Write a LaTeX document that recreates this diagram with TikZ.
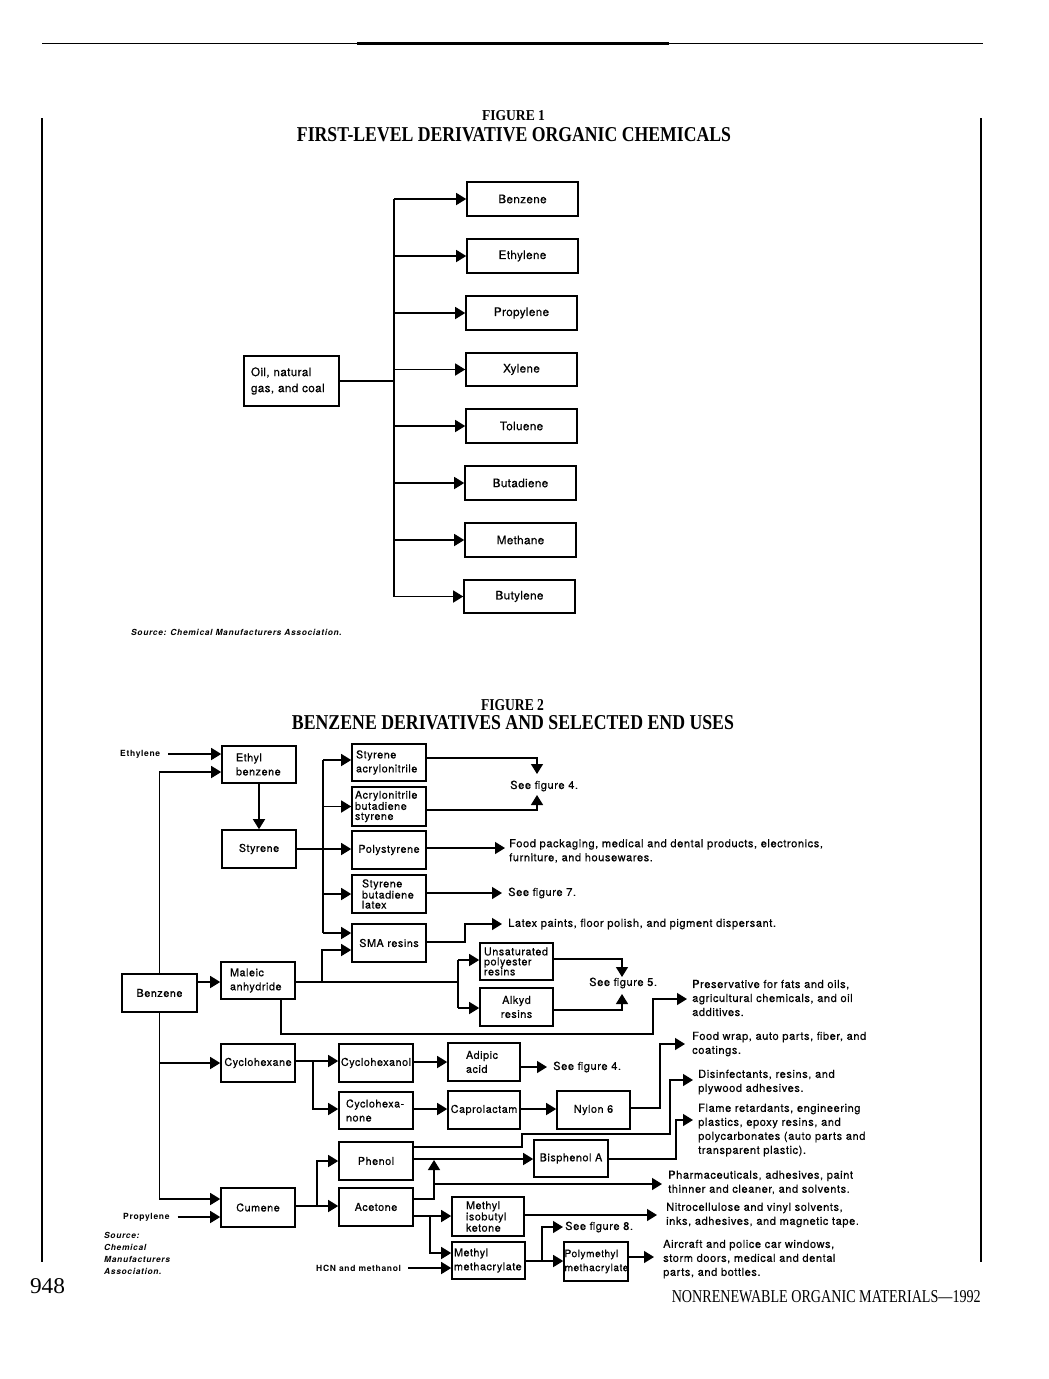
\documentclass[tikz,border=0pt]{standalone}
\usepackage{fontspec}
\usepackage{graphicx}
\setmainfont{TeX Gyre Heros}
\newfontfamily\boxfont{TeX Gyre Heros}[LetterSpace=5,FakeBold=0.5]
\newfontfamily\onefont{TeX Gyre Heros}[LetterSpace=3,FakeBold=0.5]
\newfontfamily\smallbf{TeX Gyre Heros}[LetterSpace=8]
\newfontfamily\ttlfont{Liberation Serif}
\usetikzlibrary{arrows.meta}
\newcommand\mybox[8]{%
 \pgfmathsetmacro\mybxw{#4-#2}\pgfmathsetmacro\mybxh{#5-#3}\pgfmathsetmacro\mybxt{#4-#2-2*#6}%
 \node[bx,#7,minimum width=\mybxw pt,minimum height=\mybxh pt,inner xsep=#6pt,text width=\mybxt pt] (#1) at ({(#2+#4)/2},{(#3+#5)/2}) {#8};}
\tikzset{
 ln/.style={line width=1.4pt},
 arr/.style={line width=1.4pt,-{Triangle[length=10pt,width=12pt]}},
 bx/.style={draw,line width=1.6pt,inner ysep=0pt,align=center},
 t/.style={font=\boxfont\fontsize{10.8}{14}\selectfont},
 tn/.style={font=\boxfont\fontsize{10.2}{14}\selectfont},
 tt/.style={font=\boxfont\fontsize{10.8}{10}\selectfont},
 t1/.style={font=\onefont\fontsize{11.7}{16}\selectfont},
 lbl/.style={inner sep=0pt,anchor=west,font=\smallbf\bfseries\fontsize{8.5}{9}\selectfont},
 eu/.style={inner sep=0pt,anchor=west,align=left,font=\boxfont\fontsize{11.1}{14}\selectfont},
 src/.style={inner sep=0pt,anchor=west,align=left,font=\smallbf\bfseries\itshape\fontsize{8.4}{12}\selectfont},
 ttl/.style={inner sep=0pt}
}
\begin{document}
\begin{tikzpicture}[x=1pt,y=-1pt]
\useasboundingbox (0,0) rectangle (1049,1379);
% page frame
\draw[line width=1.2pt] (42,43.5) -- (983,43.5);
\draw[line width=3pt] (357,43.5) -- (669,43.5);
\draw[line width=1.2pt] (42,118) -- (42,1262);
\draw[line width=1.2pt] (981,118) -- (981,1262);
\node[ttl] (fig1lbl) at (513.5,115.5) {\resizebox{63pt}{10pt}{\ttlfont\bfseries FIGURE 1}};
\node[ttl] (fig1ttl) at (514,135) {\resizebox{434pt}{14pt}{\ttlfont\bfseries FIRST-LEVEL DERIVATIVE ORGANIC CHEMICALS}};
\node[ttl] (fig2lbl) at (512.5,705) {\resizebox{63pt}{11pt}{\ttlfont\bfseries FIGURE 2}};
\node[ttl] (fig2ttl) at (513,723) {\resizebox{442pt}{14pt}{\ttlfont\bfseries BENZENE DERIVATIVES AND SELECTED END USES}};
\node[ttl] (pgno) at (47.5,1286) {\resizebox{35pt}{15pt}{\ttlfont 948}};
\node[ttl,anchor=east] (foot) at (981,1297) {\resizebox{309pt}{12pt}{\ttlfont NONRENEWABLE ORGANIC MATERIALS—1992}};

% ---------------- Figure 1
\mybox{oil}{244}{356}{339}{406}{7}{t1,align=left}{Oil, natural\\gas, and coal}
\mybox{b1}{467}{182}{578}{216}{0}{t1}{Benzene}
\mybox{b2}{467}{239}{578}{273}{0}{t1}{Ethylene}
\mybox{b3}{466}{296}{577}{330}{0}{t1}{Propylene}
\mybox{b4}{466}{353}{577}{386}{0}{t1}{Xylene}
\mybox{b5}{466}{409}{577}{443}{0}{t1}{Toluene}
\mybox{b6}{465}{466}{576}{500}{0}{t1}{Butadiene}
\mybox{b7}{465}{523}{576}{557}{0}{t1}{Methane}
\mybox{b8}{464}{580}{575}{613}{0}{t1}{Butylene}
\coordinate (tk) at (394,381);
\draw[ln] (oil.east) -- (tk);
\draw[ln] (tk |- b1.west) -- (tk |- b8.west);
\foreach \i in {1,...,8} {\draw[arr] (tk |- b\i.west) -- (b\i.west);}
\node[src] (src1) at (131,632) {Source: Chemical Manufacturers Association.};

% ---------------- Figure 2 boxes
\mybox{eb}{222}{746}{296}{783}{14}{t,align=left}{Ethyl\\benzene}
\mybox{sty}{222}{830}{296}{868}{0}{t}{Styrene}
\mybox{sa}{352}{744}{426}{781}{4}{t,align=left}{Styrene\\acrylonitrile}
\mybox{abs}{352}{787}{426}{826}{3}{tt,align=left}{Acrylonitrile\\butadiene\\styrene}
\mybox{ps}{352}{831}{426}{869}{0}{t}{Polystyrene}
\mybox{sbl}{352}{875}{426}{913}{10}{tt,align=left}{Styrene\\butadiene\\latex}
\mybox{sma}{352}{924}{426}{962}{0}{t}{SMA resins}
\mybox{unsat}{480}{943}{553}{980}{4}{tt,align=left}{Unsaturated\\polyester\\resins}
\mybox{alkyd}{480}{988}{553}{1026}{0}{t}{Alkyd\\resins}
\mybox{benz}{122}{974}{197}{1012}{0}{t}{Benzene}
\mybox{maleic}{221}{962}{295}{999}{9}{t,align=left}{Maleic\\anhydride}
\mybox{chex}{221}{1044}{295}{1082}{0}{t}{Cyclohexane}
\mybox{chol}{339}{1044}{413}{1082}{0}{t}{Cyclohexanol}
\mybox{adip}{448}{1043}{520}{1081}{18}{t,align=left}{Adipic\\acid}
\mybox{chone}{339}{1092}{413}{1129}{7}{t,align=left}{Cyclohexa-\\none}
\mybox{capro}{448}{1091}{520}{1129}{0}{t}{Caprolactam}
\mybox{nylon}{557}{1091}{630}{1129}{0}{t}{Nylon 6}
\mybox{phenol}{339}{1142}{413}{1180}{0}{t}{Phenol}
\mybox{acetone}{339}{1188}{413}{1226}{0}{t}{Acetone}
\mybox{cumene}{221}{1188}{295}{1227}{0}{t}{Cumene}
\mybox{bisa}{534}{1140}{608}{1177}{0}{t}{Bisphenol A}
\mybox{mik}{452}{1197}{524}{1236}{14}{tt,align=left}{Methyl\\isobutyl\\ketone}
\mybox{mma}{452}{1242}{525}{1279}{2}{t,align=left}{Methyl\\methacrylate}
\mybox{pmma}{564}{1242}{628}{1281}{0.5}{tn,align=left}{Polymethyl\\methacrylate}

% labels and end uses
\node[lbl] (ethl) at (120,754) {Ethylene};
\node[lbl] (propl) at (123,1217) {Propylene};
\node[lbl] (hcn) at (316,1268) {HCN and methanol};
\node[eu] (sf4a) at (510,786) {See figure 4.};
\node[eu] (fp) at (509,851) {Food packaging, medical and dental products, electronics,\\furniture, and housewares.};
\node[eu] (sf7) at (508,893) {See figure 7.};
\node[eu] (lp) at (508,924) {Latex paints, floor polish, and pigment dispersant.};
\node[eu] (sf5) at (589,983) {See figure 5.};
\node[eu] (pres) at (692,998) {Preservative for fats and oils,\\agricultural chemicals, and oil\\additives.};
\node[eu] (fw) at (692,1044) {Food wrap, auto parts, fiber, and\\coatings.};
\node[eu] (sf4b) at (553,1067) {See figure 4.};
\node[eu] (dis) at (698,1082) {Disinfectants, resins, and\\plywood adhesives.};
\node[eu] (fr) at (698,1130) {Flame retardants, engineering\\plastics, epoxy resins, and\\polycarbonates (auto parts and\\transparent plastic).};
\node[eu] (pha) at (668,1182.5) {Pharmaceuticals, adhesives, paint\\thinner and cleaner, and solvents.};
\node[eu] (nc) at (666,1215) {Nitrocellulose and vinyl solvents,\\inks, adhesives, and magnetic tape.};
\node[eu] (sf8) at (565,1227) {See figure 8.};
\node[eu] (air) at (663,1259) {Aircraft and police car windows,\\storm doors, medical and dental\\parts, and bottles.};
\node[src] (src2) at (104,1253) {Source:\\Chemical\\Manufacturers\\Association.};

% connectors
\draw[arr] ([xshift=8pt]ethl.east) -- (ethl.east -| eb.west);
\coordinate (j1) at (159,772);
\draw[arr] (benz.north) -- (benz.north |- j1) -- (j1 -| eb.west);
\draw[arr] (eb.south) -- (sty.north);
\draw[arr] (sty.east) -- (sty.east -| ps.west);
\coordinate (s1) at (323,760); \coordinate (s2) at (323,933);
\draw[ln] (s1) -- (s2);
\draw[arr] (s1) -- (s1 -| sa.west);
\draw[arr] (s1 |- abs.west) -- (abs.west);
\draw[arr] (s1 |- sbl.west) -- (sbl.west);
\draw[arr] (s2) -- (s2 -| sma.west);
\coordinate (a1) at (537,758); \coordinate (a2) at (537,774);
\draw[arr] (sa.east |- a1) -- (a1) -- (a2);
\coordinate (a3) at (537,810); \coordinate (a4) at (537,795);
\draw[arr] (abs.east |- a3) -- (a3) -- (a4);
\coordinate (p1) at (505,848);
\draw[arr] (ps.east |- p1) -- (p1);
\coordinate (p2) at (502,893);
\draw[arr] (sbl.east |- p2) -- (p2);
\coordinate (p3) at (465,942); \coordinate (p4) at (502,924);
\draw[arr] (sma.east |- p3) -- (p3) -- (p3 |- p4) -- (p4);
\coordinate (m0) at (197,982);
\draw[arr] (benz.east |- m0) -- (m0 -| maleic.west);
\coordinate (m1) at (458,982);
\draw[ln] (maleic.east |- m1) -- (m1);
\coordinate (m2) at (322,950);
\draw[arr] (m2 |- m1) -- (m2) -- (m2 -| sma.west);
\coordinate (m3) at (458,960); \coordinate (m4) at (458,1008);
\draw[ln] (m3) -- (m4);
\draw[arr] (m3) -- (m3 -| unsat.west);
\draw[arr] (m4) -- (m4 -| alkyd.west);
\coordinate (u1) at (622,959); \coordinate (u2) at (622,977);
\draw[arr] (unsat.east |- u1) -- (u1) -- (u2);
\coordinate (u3) at (622,1010); \coordinate (u4) at (622,994);
\draw[arr] (alkyd.east |- u3) -- (u3) -- (u4);
\coordinate (q1) at (281,1034); \coordinate (q2) at (653,1034); \coordinate (q3) at (653,999); \coordinate (q4) at (687,999);
\draw[arr] (q1 |- maleic.south) -- (q1) -- (q2) -- (q3) -- (q4);
\coordinate (k1) at (159,1199);
\draw[arr] (benz.south) -- (benz.south |- k1) -- (k1 -| cumene.west);
\coordinate (k2) at (159,1063);
\draw[arr] (benz.south |- k2) -- (k2 -| chex.west);
\coordinate (c1) at (313,1061);
\draw[arr] (chex.east |- c1) -- (c1 -| chol.west);
\coordinate (c2) at (313,1109);
\draw[arr] (c1) -- (c2) -- (c2 -| chone.west);
\coordinate (c3) at (430,1062);
\draw[arr] (chol.east |- c3) -- (c3 -| adip.west);
\coordinate (c4) at (547,1067);
\draw[arr] (adip.east |- c4) -- (c4);
\draw[arr] (chone.east |- c2) -- (c2 -| capro.west);
\draw[arr] (capro.east |- c2) -- (c2 -| nylon.west);
\coordinate (n1) at (660,1108); \coordinate (n2) at (685,1044);
\draw[arr] (nylon.east |- n1) -- (n1) -- (n1 |- n2) -- (n2);
\coordinate (h1) at (522,1147); \coordinate (h2) at (522,1134); \coordinate (h3) at (670,1134); \coordinate (h4) at (693,1080);
\draw[arr] (phenol.east |- h1) -- (h1) -- (h2) -- (h3) -- (h3 |- h4) -- (h4);
\coordinate (h5) at (434,1159);
\draw[arr] (phenol.east |- h5) -- (h5 -| bisa.west);
\coordinate (g1) at (676,1159); \coordinate (g2) at (693,1120);
\draw[arr] (bisa.east |- g1) -- (g1) -- (g1 |- g2) -- (g2);
\coordinate (e1) at (434,1199); \coordinate (e2) at (434,1160);
\draw[arr] (acetone.east |- e1) -- (e1) -- (e2);
\coordinate (e3) at (434,1184); \coordinate (e4) at (662,1184);
\draw[arr] (e3) -- (e4);
\coordinate (f1) at (317,1206); \coordinate (f2) at (317,1161);
\draw[arr] (cumene.east |- f1) -- (f1 -| acetone.west);
\draw[arr] (f1) -- (f2) -- (f2 -| phenol.west);
\draw[arr] ([xshift=8pt]propl.east) -- (propl.east -| cumene.west);
\coordinate (r1) at (430,1216);
\draw[arr] (acetone.east |- r1) -- (r1 -| mik.west);
\coordinate (r2) at (430,1253);
\draw[arr] (r1) -- (r2) -- (r2 -| mma.west);
\draw[arr] ([xshift=7pt]hcn.east) -- (hcn.east -| mma.west);
\coordinate (r3) at (657,1215);
\draw[arr] (mik.east |- r3) -- (r3);
\coordinate (r4) at (542,1261); \coordinate (r5) at (563,1227);
\draw[arr] (mma.east |- r4) -- (r4 -| pmma.west);
\draw[arr] (r4) -- (r4 |- r5) -- (r5);
\coordinate (r6) at (654,1257);
\draw[arr] (pmma.east |- r6) -- (r6);
\end{tikzpicture}
\end{document}
